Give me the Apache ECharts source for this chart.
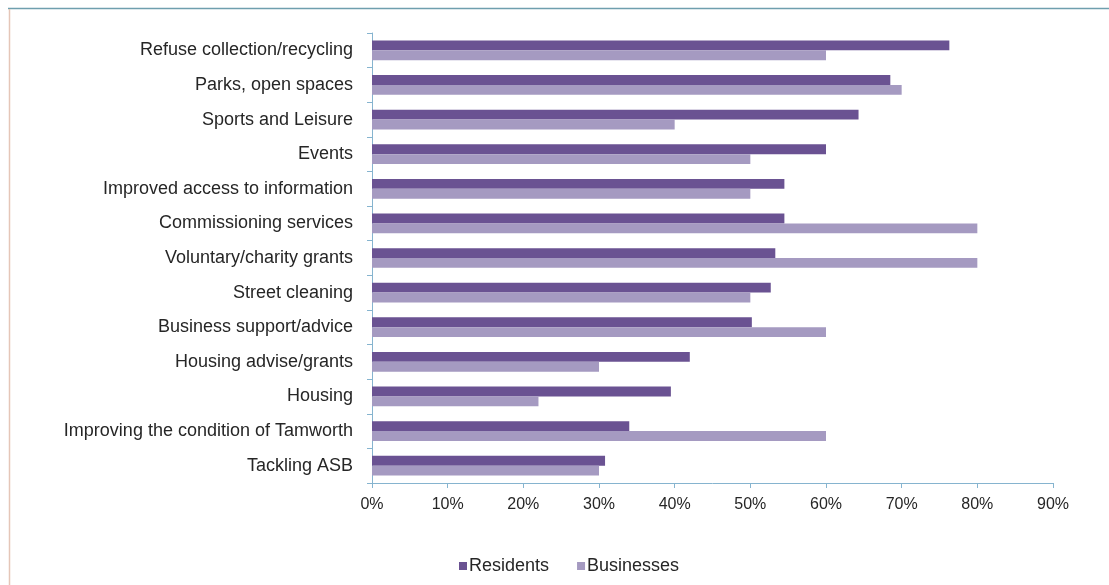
<!DOCTYPE html>
<html>
<head>
<meta charset="utf-8">
<script src="https://cdn.jsdelivr.net/npm/echarts@6/dist/echarts.min.js"></script>
<style>
html,body{margin:0;padding:0;background:#ffffff;}
#c{width:1109px;height:585px;}
</style>
</head>
<body>
<div id="c"></div>
<script>
const categories = [
  "Refuse collection/recycling",
  "Parks, open spaces",
  "Sports and Leisure",
  "Events",
  "Improved access to information",
  "Commissioning services",
  "Voluntary/charity grants",
  "Street cleaning",
  "Business support/advice",
  "Housing advise/grants",
  "Housing",
  "Improving the condition of Tamworth",
  "Tackling ASB"
];
const residents = [76.3, 68.5, 64.3, 60.0, 54.5, 54.5, 53.3, 52.7, 50.2, 42.0, 39.5, 34.0, 30.8];
const businesses = [60, 70, 40, 50, 50, 80, 80, 50, 60, 30, 22, 60, 30];
const xTicks = [0, 10, 20, 30, 40, 50, 60, 70, 80, 90];

const chart = echarts.init(document.getElementById('c'), null, {renderer: 'canvas'});
const font = '"Liberation Sans", Arial, sans-serif';
const axisColor = '#86b4cf';
chart.setOption({
  backgroundColor: '#ffffff',
  animation: false,
  textStyle: {fontFamily: font},
  graphic: [
    {type: 'line', shape: {x1: 8, y1: 8.5, x2: 1109, y2: 8.5}, style: {stroke: '#6f9fae', lineWidth: 1.5}},
    {type: 'line', shape: {x1: 9.5, y1: 9, x2: 9.5, y2: 585}, style: {stroke: '#e5c6b8', lineWidth: 1.5}}
  ],
  grid: {left: 372, right: 56, top: 33, bottom: 102, containLabel: false},
  legend: {
    data: ['Residents', 'Businesses'],
    left: 454, top: 552,
    itemWidth: 8, itemHeight: 8, itemGap: 28,
    icon: 'rect',
    textStyle: {fontFamily: font, fontSize: 18, color: '#262626', padding: [0, 0, 0, -3]}
  },
  xAxis: {
    type: 'value', min: 0, max: 90, interval: 10,
    axisLine: {show: true, lineStyle: {color: axisColor, width: 1}},
    axisTick: {show: true, length: 5, lineStyle: {color: axisColor}},
    splitLine: {show: false},
    axisLabel: {
      fontFamily: font, fontSize: 16, color: '#262626', margin: 14,
      formatter: v => (xTicks.includes(v) ? v + '%' : '')
    }
  },
  yAxis: {
    type: 'category', data: categories, inverse: true,
    axisLine: {show: true, lineStyle: {color: axisColor, width: 1}},
    axisTick: {show: true, length: 5, lineStyle: {color: axisColor}},
    axisLabel: {fontFamily: font, fontSize: 18, color: '#262626', margin: 19}
  },
  series: [
    {name: 'Residents', type: 'bar', data: residents, barGap: '0%', barCategoryGap: '43%',
     itemStyle: {color: '#6a5292'}},
    {name: 'Businesses', type: 'bar', data: businesses, barGap: '0%', barCategoryGap: '43%',
     itemStyle: {color: '#a59ac1'}}
  ]
});
</script>
</body>
</html>
